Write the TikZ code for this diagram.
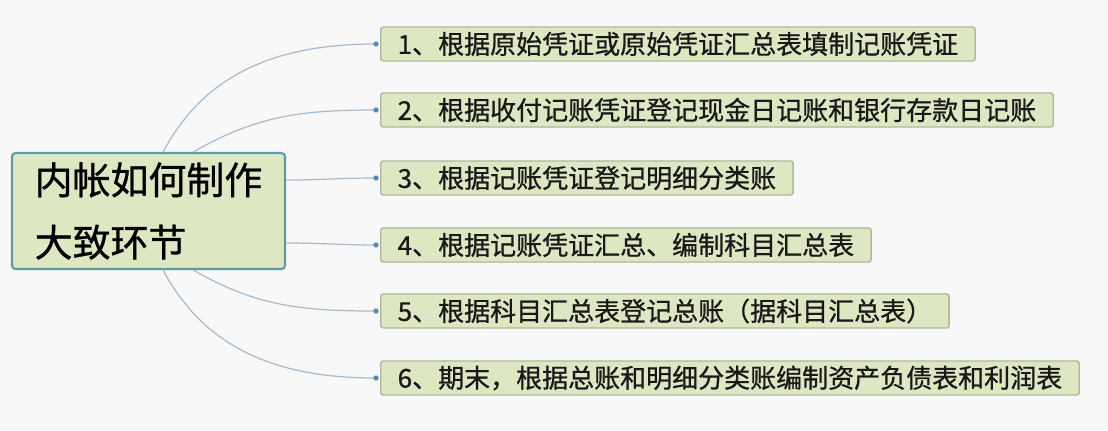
\documentclass[tikz,border=0pt]{standalone}
\usepackage{fontspec}
\newfontfamily\cjk[FakeBold=0.8]{Noto Sans CJK SC}
\usetikzlibrary{calc}

\definecolor{bgcol}{HTML}{F8F8F8}
\definecolor{boxfill}{HTML}{DDE7C2}
\definecolor{boxline}{HTML}{A9B99A}
\definecolor{mainline}{HTML}{5E9BA9}
\definecolor{linkcol}{HTML}{A5BDD1}
\definecolor{dotcol}{HTML}{5B87B1}

\tikzset{
  stepnode/.style={draw=boxline, fill=boxfill, rounded corners=1.5pt, line width=0.8pt,
    anchor=west, minimum height=0.68cm, inner xsep=0.34cm, inner ysep=0pt,
    font=\cjk\fontsize{14.8pt}{16pt}\selectfont, text=black!90},
  mainnode/.style={draw=mainline, fill=boxfill, rounded corners=2pt, line width=1.2pt,
    minimum width=5.46cm, minimum height=2.32cm, align=left,
    font=\cjk\fontsize{21.6pt}{35.5pt}\selectfont, text=black},
  link/.style={linkcol, line width=0.7pt},
  linkdot/.style={fill=dotcol, circle, inner sep=0pt, minimum size=3pt}
}

\begin{document}
\begin{tikzpicture}[x=0.02cm, y=-0.02cm]
\fill[bgcol] (0,0) rectangle (1108,430);
\useasboundingbox (0,0) rectangle (1108,430);

\node[mainnode] (main) at (148.5,211) {内帐如何制作\\大致环节};

\node[stepnode] (s1) at (380,44)  {1、根据原始凭证或原始凭证汇总表填制记账凭证};
\node[stepnode] (s2) at (380,110) {2、根据收付记账凭证登记现金日记账和银行存款日记账};
\node[stepnode] (s3) at (380,178) {3、根据记账凭证登记明细分类账};
\node[stepnode] (s4) at (380,245) {4、根据记账凭证汇总、编制科目汇总表};
\node[stepnode] (s5) at (380,311) {5、根据科目汇总表登记总账（据科目汇总表）};
\node[stepnode] (s6) at (380,378) {6、期末，根据总账和明细分类账编制资产负债表和利润表};

% start points on the main box
\coordinate (t1) at ($(main.north west)!0.553!(main.north east)$);
\coordinate (t2) at ($(main.north west)!0.663!(main.north east)$);
\coordinate (b5) at ($(main.south west)!0.663!(main.south east)$);
\coordinate (b6) at ($(main.south west)!0.553!(main.south east)$);
\coordinate (r3) at ([yshift=0.62cm]main.east);
\coordinate (r4) at ([yshift=-0.64cm]main.east);

% end points beside each step
\foreach \i in {1,...,6} {
  \coordinate (d\i) at ([xshift=-0.08cm]s\i.west);
}

\draw[link] (t1) to[out=62,in=180] (d1);
\draw[link] (t2) to[out=30,in=180] (d2);
\draw[link] (r3) to[out=0,in=180] (d3);
\draw[link] (r4) to[out=0,in=180] (d4);
\draw[link] (b5) to[out=-30,in=180] (d5);
\draw[link] (b6) to[out=-62,in=180] (d6);

\foreach \i in {1,...,6} {
  \node[linkdot] at (d\i) {};
}
\end{tikzpicture}
\end{document}
